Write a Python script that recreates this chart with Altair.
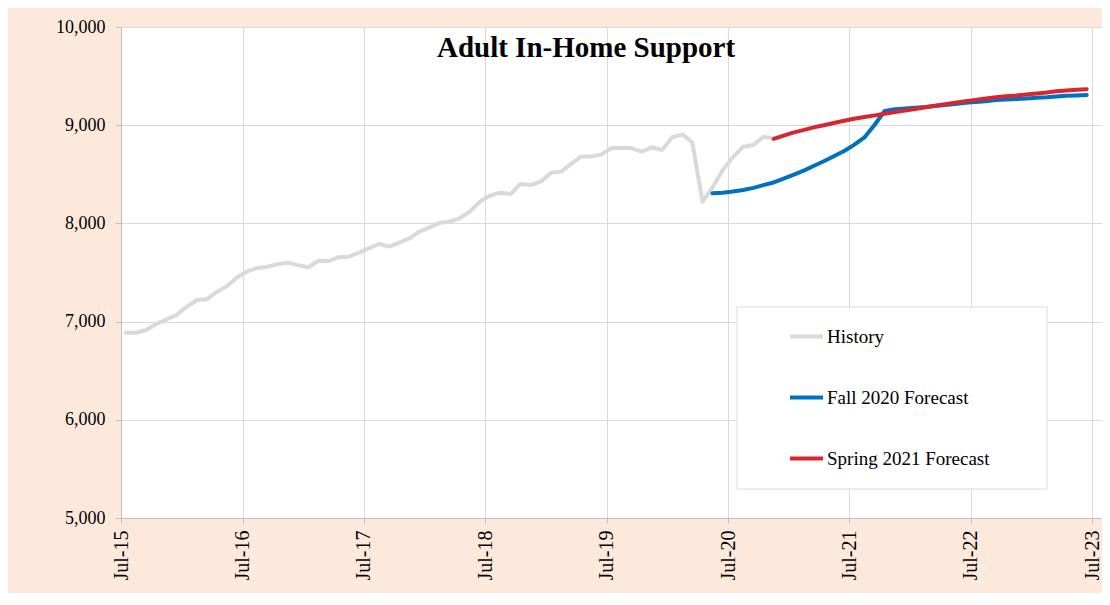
import altair as alt
import pandas as pd

# ---- data ----
history_start = "2015-07"
history = [6887, 6887, 6914, 6975, 7023, 7067, 7152, 7220, 7227, 7305,
           7363, 7451, 7512, 7546, 7559, 7587, 7600, 7573, 7553, 7620,
           7617, 7655, 7661, 7700, 7746, 7790, 7763, 7804, 7848, 7916,
           7960, 8007, 8017, 8052, 8119, 8221, 8282, 8313, 8299, 8401,
           8391, 8425, 8517, 8527, 8602, 8680, 8680, 8700, 8765, 8771,
           8765, 8730, 8775, 8747, 8877, 8907, 8826, 8221, 8367, 8544,
           8673, 8781, 8798, 8883, 8866]

fall_start = "2020-05"
fall_2020 = [8306, 8313, 8325, 8340, 8362, 8390, 8417, 8455, 8497, 8540,
             8585, 8633, 8684, 8737, 8800, 8875, 9005, 9145, 9162, 9170,
             9177, 9185, 9195, 9205, 9217, 9228, 9237, 9245, 9257, 9262,
             9267, 9272, 9279, 9285, 9293, 9299, 9303, 9308]

spring_start = "2020-11"
spring_2021 = [8860, 8893, 8927, 8952, 8978, 9000, 9022, 9045, 9066, 9083,
               9100, 9116, 9135, 9150, 9166, 9183, 9198, 9214, 9230, 9245,
               9258, 9272, 9285, 9294, 9302, 9312, 9323, 9334, 9345, 9354,
               9360, 9366]

series_names = ["History", "Fall 2020 Forecast", "Spring 2021 Forecast"]
series_colors = ["#d9d9d9", "#0070c0", "#d9262e"]
tick_years = [2015, 2016, 2017, 2018, 2019, 2020, 2021, 2022, 2023]
y_ticks = [5000, 6000, 7000, 8000, 9000, 10000]
chart_title = ["Adult In-Home Support"]

FONT = "Liberation Serif"


def month_dates(start, n):
    d = pd.date_range(start + "-01", periods=n, freq="MS") + pd.Timedelta(days=14)
    return [x.strftime("%Y-%m-%dT00:00:00") for x in d]


rows = []
for k, (name, start, vals) in enumerate(zip(series_names,
                                            [history_start, fall_start, spring_start],
                                            [history, fall_2020, spring_2021])):
    for d, v in zip(month_dates(start, len(vals)), vals):
        rows.append({"date": d, "value": v, "series": name, "k": k})
df = pd.DataFrame(rows)

x_axis = alt.Axis(
    values=[alt.DateTime(year=y, month=7, date=1) for y in tick_years],
    format="%b-%y", labelAngle=-90, labelFont=FONT, labelFontSize=20,
    labelColor="black", labelPadding=7, tickSize=5, tickColor="#bfbfbf",
    domainColor="#bfbfbf", gridColor="#d9d9d9", title=None, labelFlush=False,
    labelOverlap=False,
)
y_axis = alt.Axis(
    values=y_ticks, format=",.0f", labelFont=FONT, labelFontSize=18,
    labelColor="black", labelPadding=10, tickSize=6, tickColor="#bfbfbf",
    domainColor="#bfbfbf", gridColor="#d9d9d9", title=None,
)

legend = alt.Legend(
    orient="none", legendX=616, legendY=280, title=None,
    symbolType="stroke", symbolSize=1089, symbolStrokeWidth=4,
    labelFont=FONT, labelFontSize=19, labelColor="black", labelOffset=2,
    rowPadding=32, padding=11, symbolOffset=40, labelLimit=400,
)

# white legend frame behind the legend entries
legend_box = alt.Chart(pd.DataFrame({"b": [0]})).mark_rect(
    fill="white", stroke="#d9d9d9", strokeWidth=1,
).encode(x=alt.value(616), x2=alt.value(926), y=alt.value(280), y2=alt.value(462))

lines = alt.Chart(df).mark_line(strokeWidth=4, strokeCap="round", strokeJoin="round").encode(
    x=alt.X("date:T", axis=x_axis,
            scale=alt.Scale(domain=[alt.DateTime(year=2015, month=7, date=1),
                                    alt.DateTime(year=2023, month=7, date=31)])),
    y=alt.Y("value:Q", axis=y_axis, scale=alt.Scale(domain=[5000, 10000], nice=False)),
    color=alt.Color("series:N", legend=legend,
                    scale=alt.Scale(domain=series_names, range=series_colors),
                    sort=series_names),
    order=alt.Order("k:Q"),
    detail="series:N",
)

title = alt.Chart(pd.DataFrame({"t": chart_title})).mark_text(
    font=FONT, fontSize=29, fontWeight="bold", color="black",
    align="center", baseline="alphabetic",
).encode(text="t:N", x=alt.value(465), y=alt.value(30))

chart = alt.layer(lines, legend_box, title).properties(
    width=981, height=491,
    autosize=alt.AutoSizeParams(type="none"),
    padding={"left": 113, "top": 19, "right": 0, "bottom": 75},
    background="#fce9db",
).configure_view(
    fill="white", stroke="#d9d9d9"
)

chart.save("out.html", embed_options={"renderer": "svg", "actions": False})
